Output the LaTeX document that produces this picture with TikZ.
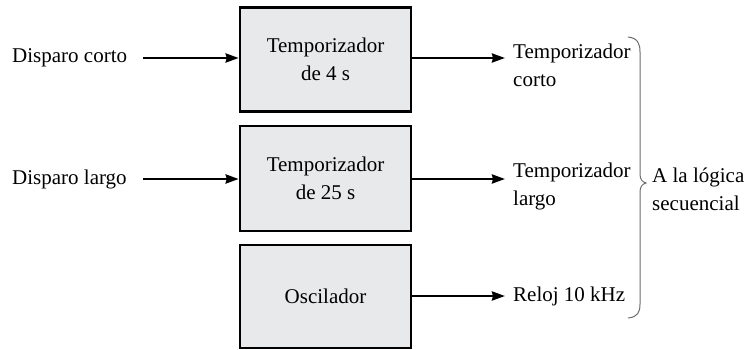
\documentclass[tikz,border=0pt]{standalone}
\usepackage{fontspec}
\setmainfont{Liberation Serif}
\usetikzlibrary{arrows.meta}
\begin{document}
\begin{tikzpicture}[x=1pt,y=-1pt,
  blk/.style={draw=black, line width=2.6pt, fill=blockgray, minimum width=171pt, inner sep=0pt, align=center, font=\fontsize{21}{28}\selectfont},
  lbl/.style={inner sep=0pt, align=left, font=\fontsize{21}{28}\selectfont},
  arr/.style={line width=2.6pt, -{Stealth[length=13pt,width=9pt,inset=1pt]}},
  brc/.style={draw=gray!85!black, line width=1pt}]
\definecolor{blockgray}{HTML}{E8E9EB}
\useasboundingbox (0,0) rectangle (754,350);
\node[blk, minimum height=104pt] (b1) at (325.5,59.5) {Temporizador\\de 4 s};
\node[blk, minimum height=105pt] (b2) at (325.5,178.5) {Temporizador\\de 25 s};
\node[blk, minimum height=103pt] (b3) at (325.5,296.5) {Oscilador};
\node[lbl, anchor=west] (i1) at (12,58) {Disparo corto};
\node[lbl, anchor=west] (i2) at (12,179) {Disparo largo};
\node[lbl, anchor=north west] (o1) at (513,44) {Temporizador\\corto};
\node[lbl, anchor=north west] (o2) at (513,163) {Temporizador\\largo};
\node[lbl, anchor=west] (o3) at (513,296) {Reloj 10 kHz};
\node[lbl, anchor=north west] (d) at (652,168) {A la lógica\\secuencial};
\coordinate (a1s) at (143,58);
\coordinate (a2s) at (143,179);
\draw[arr] (a1s) -- (b1.west |- a1s);
\draw[arr] (a2s) -- (b2.west |- a2s);
\draw[arr] (b1.east |- a1s) -- (505,58) coordinate (e1);
\draw[arr] (b2.east |- a2s) -- (505,179) coordinate (e2);
\draw[arr] (b3.east |- 0,296) -- (505,296) coordinate (e3);
\coordinate (bt) at (628,37);
\coordinate (bb) at (628,318);
\coordinate (tip) at (646,183);
\draw[brc] (bt) .. controls (638,38) and (640,44) .. (640,52)
  -- (640,174) .. controls (640,179) and (642,182) .. (tip)
  .. controls (642,184) and (640,187) .. (640,192)
  -- (640,304) .. controls (640,312) and (638,317) .. (bb);
\end{tikzpicture}
\end{document}
